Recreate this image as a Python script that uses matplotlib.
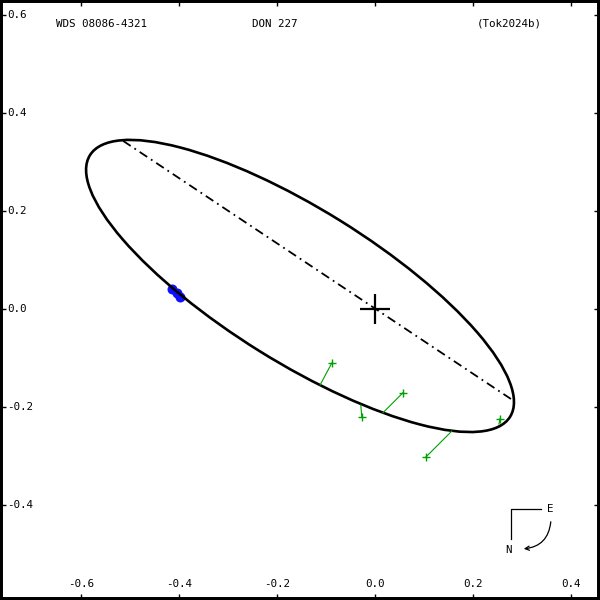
import matplotlib
matplotlib.use("Agg")
import matplotlib.pyplot as plt
from matplotlib.patches import Ellipse, FancyArrowPatch
from matplotlib import transforms
import numpy as np

# ---- data ----
title_left = "WDS 08086-4321"
title_mid = "DON 227"
title_right = "(Tok2024b)"

xticks = [-0.6, -0.4, -0.2, 0.0, 0.2, 0.4]
xtick_labels = ["-0.6", "-0.4", "-0.2", "0.0", "0.2", "0.4"]
yticks = [-0.4, -0.2, 0.0, 0.2, 0.4, 0.6]
ytick_labels = ["-0.4", "-0.2", "0.0", "0.2", "0.4", "0.6"]

# apparent orbit ellipse
orbit_center = (-0.153, 0.047)
orbit_major = 1.010      # full length
orbit_minor = 0.313      # full length
orbit_angle = -31.9      # degrees

# line of nodes end points
nodes_x = [-0.514, 0.284]
nodes_y = [0.343, -0.188]

# observations and predicted positions
obs_x = [-0.088, -0.027, 0.057, 0.104, 0.255]
obs_y = [-0.110, -0.220, -0.171, -0.302, -0.224]
pred_x = [-0.112, -0.029, 0.016, 0.157, 0.253]
pred_y = [-0.155, -0.196, -0.212, -0.249, -0.235]

# blue points
blue_x = [-0.414, -0.405, -0.397]
blue_y = [0.041, 0.033, 0.025]

xlim = (-0.7653, 0.4592)
ylim = (-0.5939, 0.6306)

# ---- figure ----
fig = plt.figure(figsize=(6, 6), dpi=100)
ax = fig.add_axes([0, 0, 1, 1])
ax.set_xlim(*xlim)
ax.set_ylim(*ylim)

for s in ax.spines.values():
    s.set_linewidth(4.3)
    s.set_color("black")

ax.set_xticks(xticks)
ax.set_yticks(yticks)
ax.tick_params(direction="in", length=4, width=1, top=True, right=True,
               labelbottom=False, labelleft=False)

font = dict(family="DejaVu Sans Mono", fontsize=7.8, color="black")

bx = transforms.blended_transform_factory(ax.transData, ax.transAxes)
for v, t in zip(xticks, xtick_labels):
    ax.text(v, 16 / 600, t, transform=bx, ha="center", va="center", **font)
by = transforms.blended_transform_factory(ax.transAxes, ax.transData)
for v, t in zip(yticks, ytick_labels):
    ax.text(7 / 600, v, t, transform=by, ha="left", va="center", **font)

ax.text(101 / 600, 1 - 24 / 600, title_left, transform=ax.transAxes, ha="center", va="center", **font)
ax.text(275 / 600, 1 - 24 / 600, title_mid, transform=ax.transAxes, ha="center", va="center", **font)
ax.text(509 / 600, 1 - 24 / 600, title_right, transform=ax.transAxes, ha="center", va="center", **font)

# orbit
ell = Ellipse(orbit_center, orbit_major, orbit_minor, angle=orbit_angle,
              fill=False, edgecolor="black", linewidth=1.9, zorder=3)
ax.add_patch(ell)

# line of nodes
ax.plot(nodes_x, nodes_y, color="black", linewidth=1.3,
        linestyle=(0, (5, 2.5, 1, 2.5)), zorder=2)

# primary
ax.plot([0], [0], marker="+", markersize=22, markeredgewidth=1.6, color="black", zorder=5)

# O-C lines and observations
green = "#00a000"
for ox, oy, px, py in zip(obs_x, obs_y, pred_x, pred_y):
    ax.plot([ox, px], [oy, py], color=green, linewidth=0.8, zorder=4)
ax.plot(obs_x, obs_y, linestyle="none", marker="+", markersize=6,
        markeredgewidth=1.0, color=green, zorder=4)

ax.plot(blue_x, blue_y, linestyle="none", marker="o", markersize=7.2,
        color="#1010ff", markeredgewidth=0, zorder=2)

# compass (axes fraction)
def px2ax(x, y):
    return (x / 600, 1 - y / 600)

ax.plot([px2ax(541, 509)[0], px2ax(511, 509)[0], px2ax(511, 539)[0]],
        [px2ax(541, 509)[1], px2ax(511, 509)[1], px2ax(511, 539)[1]],
        color="black", linewidth=0.9, transform=ax.transAxes)
ax.text(*px2ax(550, 509), "E", transform=ax.transAxes, ha="center", va="center", **font)
ax.text(*px2ax(508, 550), "N", transform=ax.transAxes, ha="center", va="center", **font)
arr = FancyArrowPatch(px2ax(551, 519), px2ax(521, 549), transform=ax.transAxes,
                      connectionstyle="arc3,rad=-0.45", arrowstyle="->,head_length=3,head_width=1.5",
                      color="black", linewidth=0.9, mutation_scale=1)
ax.add_patch(arr)

fig.savefig("out.png", dpi=100)
